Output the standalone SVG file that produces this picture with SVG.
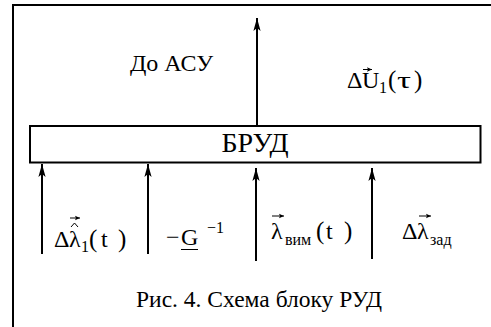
<svg xmlns="http://www.w3.org/2000/svg" width="491" height="327" viewBox="0 0 491 327">
<defs>
<marker id="ah" markerUnits="userSpaceOnUse" markerWidth="16" markerHeight="10" viewBox="-14 -5 16 10" refX="0" refY="0" orient="auto">
<path d="M0,0 L-13,-3.6 L-10,0 L-13,3.6 Z" fill="#000"/>
</marker>
<marker id="va" markerUnits="userSpaceOnUse" markerWidth="8" markerHeight="8" viewBox="-6 -4 8 8" refX="0" refY="0" orient="auto">
<path d="M0,0 L-5,-2.2 L-4,0 L-5,2.2 Z" fill="#000"/>
</marker>
</defs>
<style>
text{font-family:"Liberation Serif","Times New Roman",serif;fill:#000}
.t{font-size:24px}
.s{font-size:16px}
.p{font-size:25px}
.b{font-size:28px}
.c{font-size:23.5px}
.ln{stroke:#000;stroke-width:2;fill:none}
.acc{stroke:#000;stroke-width:1;fill:none}
</style>
<rect width="491" height="327" fill="#fff"/>
<path class="ln" d="M13,327 V5 H491"/>
<g id="brud">
<rect x="30" y="126" width="450.5" height="36.5" fill="#fff" stroke="#000" stroke-width="2"/>
<text class="b" x="255" y="152" text-anchor="middle">БРУД</text>
</g>
<g id="connectors">
<line class="ln" x1="257" y1="126" x2="257" y2="18" marker-end="url(#ah)"/>
<line class="ln" x1="42" y1="254" x2="42" y2="164" marker-end="url(#ah)"/>
<line class="ln" x1="148" y1="254" x2="148" y2="164" marker-end="url(#ah)"/>
<line class="ln" x1="256" y1="261" x2="256" y2="168" marker-end="url(#ah)"/>
<line class="ln" x1="372" y1="259" x2="372" y2="168" marker-end="url(#ah)"/>
</g>
<g id="out-label">
<text class="t" x="130" y="70.5">До АСУ</text>
</g>
<g id="u-label">
<text class="t" x="347" y="88">Δ</text>
<text class="t" x="362" y="88">U</text>
<line class="acc" x1="363" y1="69.5" x2="372" y2="69.5" marker-end="url(#va)"/>
<text class="s" x="379" y="93">1</text>
<text class="p" x="388" y="88">(</text>
<text class="t" x="397" y="88" textLength="14" lengthAdjust="spacingAndGlyphs">τ</text>
<text class="p" x="414" y="88">)</text>
</g>
<g id="lam1-label">
<text class="t" x="54" y="247">Δ</text>
<text class="t" x="69" y="247">λ</text>
<path class="acc" d="M71,227 L74.5,223 L78,227"/>
<line class="acc" x1="70" y1="218" x2="80" y2="218" marker-end="url(#va)"/>
<text class="s" x="81" y="252">1</text>
<text class="p" x="89" y="247">(</text>
<text class="t" x="101" y="247">t</text>
<text class="p" x="118" y="247">)</text>
</g>
<g id="g-label">
<text class="t" x="166" y="245">−</text>
<text class="t" x="181" y="245">G</text>
<line class="acc" x1="181" y1="249.5" x2="198" y2="249.5"/>
<text class="s" x="207" y="233">−1</text>
</g>
<g id="lamvim-label">
<text class="t" x="271" y="239">λ</text>
<line class="acc" x1="272" y1="216" x2="284" y2="216" marker-end="url(#va)"/>
<text class="s" x="285" y="245">вим</text>
<text class="p" x="316" y="239">(</text>
<text class="t" x="326" y="239">t</text>
<text class="p" x="344" y="239">)</text>
</g>
<g id="lamzad-label">
<text class="t" x="402" y="239">Δ</text>
<text class="t" x="417" y="239">λ</text>
<line class="acc" x1="419" y1="216" x2="431" y2="216" marker-end="url(#va)"/>
<text class="s" x="430" y="245">зад</text>
</g>
<g id="caption">
<text class="c" x="259" y="307" text-anchor="middle">Рис. 4. Схема блоку РУД</text>
</g>
</svg>
